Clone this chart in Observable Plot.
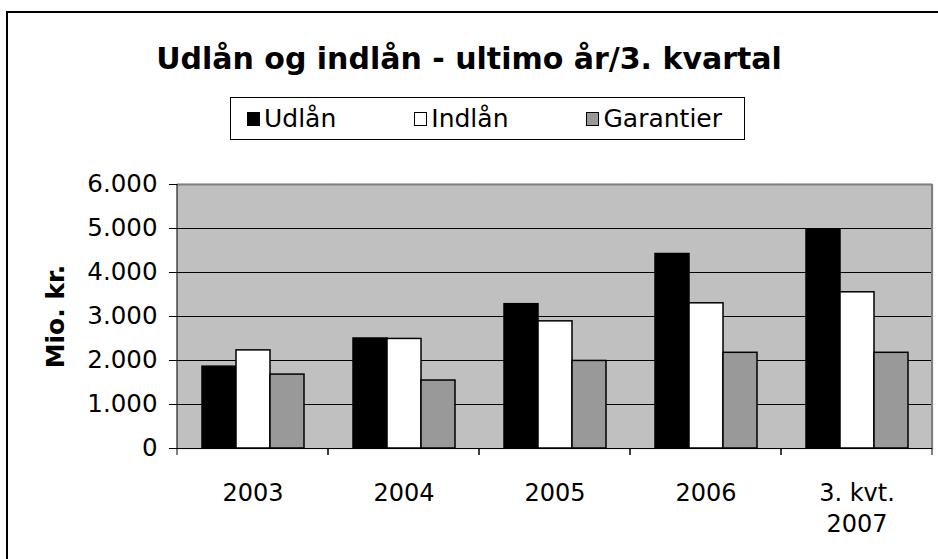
<!DOCTYPE html>
<html><head><meta charset="utf-8">
<script src="https://cdn.jsdelivr.net/npm/d3@7"></script>
<script src="https://cdn.jsdelivr.net/npm/@observablehq/plot@0.6"></script>
<style>
body{margin:0;background:#fff;font-family:"DejaVu Sans",Verdana,sans-serif;color:#000;}
#wrap{position:relative;width:938px;height:559px;overflow:hidden;}
#border{position:absolute;left:6px;top:11px;width:960px;height:580px;border:2px solid #000;box-sizing:border-box;}
#title{position:absolute;left:0;width:938px;top:41px;text-align:center;font-weight:bold;font-size:30px;line-height:36px;white-space:nowrap;}
#legend{position:absolute;left:230px;top:97px;width:515px;height:43px;border:1px solid #000;box-sizing:border-box;display:flex;align-items:center;font-size:25px;background:#fff;padding-left:16px;}
.item{display:flex;align-items:center;margin-right:78px;}
.item:last-child{margin-right:0;}
.sw{width:13px;height:14px;border:1px solid #000;box-sizing:border-box;margin-right:4px;}
#chart{position:absolute;left:0;top:150px;}
#chart g[aria-label="y-axis label"] text{font-weight:bold;font-size:25px;}
</style>
</head><body>
<div id="wrap">
  <div id="border"></div>
  <div id="title">Udlån og indlån - ultimo år/3. kvartal</div>
  <div id="legend"></div>
  <div id="chart"></div>
</div>
<script>
const years = ["2003", "2004", "2005", "2006", "3. kvt.\n2007"];
const series = ["Udlån", "Indlån", "Garantier"];
const udlaan = [1860, 2500, 3280, 4420, 4960];
const indlaan = [2230, 2490, 2890, 3300, 3550];
const garantier = [1680, 1545, 1990, 2175, 2175];
const colors = ["#000000", "#ffffff", "#999999"];
const yTicks = [0, 1000, 2000, 3000, 4000, 5000, 6000];
const yLabel = "Mio. kr.";

const valuesBySeries = [udlaan, indlaan, garantier];
const rows = [];
years.forEach((yr, i) => series.forEach((s, j) => rows.push({year: yr, series: s, value: valuesBySeries[j][i]})));

// legend
const leg = document.getElementById("legend");
series.forEach((s, j) => {
  const it = document.createElement("div"); it.className = "item";
  const sw = document.createElement("div"); sw.className = "sw"; sw.style.background = colors[j];
  const tx = document.createElement("span"); tx.textContent = s;
  it.appendChild(sw); it.appendChild(tx); leg.appendChild(it);
});

const fmt = d3.formatLocale({decimal: ",", thousands: ".", grouping: [3], currency: ["", ""]}).format(",");

// plot-area borders and category-boundary ticks, drawn once per facet
let facetCount = 0;
function areaEdges(index, scales, values, dimensions) {
  const {width, height, marginTop, marginLeft, marginRight, marginBottom} = dimensions;
  const k = facetCount++ % years.length;
  const g = d3.create("svg:g");
  const y0 = height - marginBottom;
  const xl = marginLeft, xr = width - marginRight;
  if (k === years.length - 1) {
    g.append("line").attr("x1", xr).attr("x2", xr).attr("y1", marginTop).attr("y2", y0)
      .attr("stroke", "#808080").attr("stroke-width", 2);
  }
  if (k === 0) {
    g.append("line").attr("x1", xl).attr("x2", xl).attr("y1", marginTop).attr("y2", y0)
      .attr("stroke", "#000").attr("stroke-width", 1);
  }
  for (const x of [xl, xr]) {
    g.append("line").attr("x1", x).attr("x2", x).attr("y1", y0).attr("y2", y0 + 7)
      .attr("stroke", "#000").attr("stroke-width", 1);
  }
  return g.node();
}

const chart = Plot.plot({
  width: 938,
  height: 409,
  marginLeft: 176,
  marginRight: 5,
  marginTop: 34,
  marginBottom: 111,
  style: {fontFamily: "DejaVu Sans, Verdana, sans-serif", fontSize: "24px", color: "#000", background: "transparent", overflow: "visible"},
  fx: {domain: years, paddingInner: 0, paddingOuter: 0, label: null},
  x: {domain: series, paddingInner: 0, paddingOuter: 0.714, axis: null},
  y: {domain: [0, 6000], label: null},
  color: {domain: series, range: colors},
  marks: [
    Plot.frame({fill: "#c0c0c0", stroke: "#c0c0c0", strokeWidth: 1.5}),
    Plot.gridY(yTicks.slice(1, -1), {stroke: "#000", strokeOpacity: 1, strokeWidth: 1, shapeRendering: "crispEdges"}),
    Plot.ruleY([yTicks[yTicks.length - 1]], {stroke: "#808080", strokeWidth: 2}),
    Plot.barY(rows, {fx: "year", x: "series", y: "value", fill: "series", stroke: "#000", strokeWidth: 1.5}),
    Plot.ruleY([0], {stroke: "#000", strokeWidth: 1}),
    areaEdges,
    Plot.axisY({ticks: yTicks, tickFormat: fmt, tickSize: 8, tickPadding: 12, fontSize: 24.5,
      label: yLabel, labelAnchor: "center", labelOffset: 131, labelArrow: "none"}),
    Plot.axisFx({anchor: "bottom", tickSize: 0, tickPadding: 30, label: null, fontSize: 24, lineHeight: 1.3})
  ]
});
document.getElementById("chart").appendChild(chart);
</script>
</body></html>
